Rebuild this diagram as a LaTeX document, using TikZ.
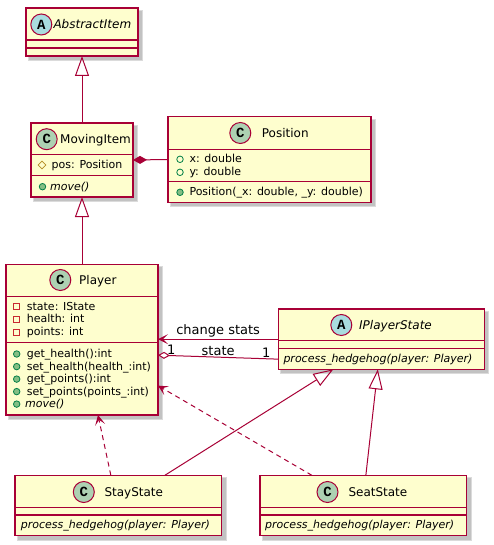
\documentclass[tikz,border=0pt]{standalone}
\usepackage{fontspec}
\setmainfont{DejaVu Sans}
\newfontfamily\spotfont{Liberation Mono}
\usetikzlibrary{arrows.meta,fit,shapes.geometric}
\definecolor{umlred}{HTML}{A80036}
\definecolor{classfill}{HTML}{FEFECE}
\definecolor{spotc}{HTML}{ADD1B2}
\definecolor{spota}{HTML}{A9DCDF}
\definecolor{pubfill}{HTML}{84BE84}
\definecolor{pubdraw}{HTML}{038048}
\definecolor{privdraw}{HTML}{C82930}
\definecolor{protdraw}{HTML}{B38D22}

\begin{document}
\begin{tikzpicture}[x=1pt,y=-1pt,
  classbox/.style={draw=umlred, fill=classfill, line width=1.2pt, inner sep=0pt, outer sep=0pt},
  sepline/.style={draw=umlred, line width=1.2pt},
  softshadow/.style={fill=black!14},
  hardshadow/.style={fill=black!24},
  spot/.style={circle, draw=umlred, line width=1pt, minimum size=21pt, inner sep=0pt, font=\spotfont\bfseries\fontsize{14}{14}\selectfont},
  cname/.style={anchor=base west, inner sep=0pt, font=\fontsize{12}{14}\selectfont},
  member/.style={anchor=base west, inner sep=0pt, font=\fontsize{11}{13}\selectfont},
  pubop/.style={circle, fill=pubfill, draw=pubdraw, line width=0.8pt, minimum size=6.5pt, inner sep=0pt},
  pubfield/.style={circle, draw=pubdraw, line width=0.8pt, minimum size=6.5pt, inner sep=0pt},
  privfield/.style={rectangle, draw=privdraw, line width=0.8pt, minimum size=6pt, inner sep=0pt},
  protfield/.style={diamond, draw=protdraw, line width=0.8pt, minimum size=8pt, inner sep=0pt},
  link/.style={draw=umlred, line width=1pt},
  extends/.style={link, -{Triangle[open, length=20pt, width=14pt]}},
  uses/.style={link, dash pattern=on 5pt off 4pt, -{Stealth[length=10pt, width=10pt, inset=5pt]}},
  linklabel/.style={font=\fontsize{13}{15}\selectfont, inner sep=1pt}
]
\fill[white] (0,0) rectangle (494,545);
\useasboundingbox (0,0) rectangle (494,545);

\fill[softshadow] (28,10) rectangle (143,61);
\fill[hardshadow] (29,11) rectangle (142,60);
\node[classbox, fit={(26,8) (138,56)}] (abstractitem) {};
\draw[sepline] (26,40) -- (138,40) (26,48) -- (138,48);
\node[spot, fill=spota] (abstractitemspot) at (41.3,24.5) {A};
\node[cname] (abstractitemname) at (53.3,29) {\textit{AbstractItem}};

\fill[softshadow] (33,125) rectangle (138,202);
\fill[hardshadow] (34,126) rectangle (137,201);
\node[classbox, fit={(31,123) (133,197)}] (movingitem) {};
\draw[sepline] (31,154.3) -- (133,154.3) (31,175.7) -- (133,175.7);
\node[spot, fill=spotc] (movingitemspot) at (46.7,139.2) {C};
\node[cname] (movingitemname) at (60,143.7) {MovingItem};
\node[protfield] (posicon) at (42,165) {};
\node[member] (postext) at (51.5,168.5) {pos: Position};
\node[pubop] (moveicon) at (42.5,186.7) {};
\node[member] (movetext) at (50,190.2) {\textit{move()}};

\fill[softshadow] (170,119) rectangle (376,207);
\fill[hardshadow] (171,120) rectangle (375,206);
\node[classbox, fit={(168,116.7) (371,202.3)}] (position) {};
\draw[sepline] (168,149.3) -- (371,149.3) (168,181.7) -- (371,181.7);
\node[spot, fill=spotc] (positionspot) at (240.3,133) {C};
\node[cname] (positionname) at (261.7,137.5) {Position};
\node[pubfield] (xicon) at (180,159.3) {};
\node[member] (xtext) at (189.3,162.8) {x: double};
\node[pubfield] (yicon) at (180,172.3) {};
\node[member] (ytext) at (189.3,175.8) {y: double};
\node[pubop] (ctoricon) at (180,192.3) {};
\node[member] (ctortext) at (189.3,195.8) {Position(\_x: double, \_y: double)};

\fill[softshadow] (8,266) rectangle (163,420);
\fill[hardshadow] (9,267) rectangle (162,419);
\node[classbox, fit={(6,264.3) (158,415)}] (player) {};
\draw[sepline] (6,296.7) -- (158,296.7) (6,342.3) -- (158,342.3);
\node[spot, fill=spotc] (playerspot) at (60.3,280) {C};
\node[cname] (playername) at (79,284.3) {Player};
\node[privfield] (stateicon) at (16.7,306.7) {};
\node[member] (statetext) at (26.7,310.2) {state: IState};
\node[privfield] (healthicon) at (16.7,319.3) {};
\node[member] (healthtext) at (26.7,322.8) {health: int};
\node[privfield] (pointsicon) at (16.7,332.1) {};
\node[member] (pointstext) at (26.7,335.6) {points: int};
\node[pubop] (gethealthicon) at (16.7,354) {};
\node[member] (gethealthtext) at (26.7,357.5) {get\_health():int};
\node[pubop] (sethealthicon) at (16.7,366.6) {};
\node[member] (sethealthtext) at (26.7,370.1) {set\_health(health\_:int)};
\node[pubop] (getpointsicon) at (16.7,379.1) {};
\node[member] (getpointstext) at (26.7,382.6) {get\_points():int};
\node[pubop] (setpointsicon) at (16.7,391.6) {};
\node[member] (setpointstext) at (26.7,395.1) {set\_points(points\_:int)};
\node[pubop] (playermoveicon) at (16.7,404.1) {};
\node[member] (playermovetext) at (25,407.6) {\textit{move()}};

\fill[softshadow] (280,311) rectangle (489,374);
\fill[hardshadow] (281,312) rectangle (488,373);
\node[classbox, fit={(278.3,309) (484.3,369.3)}] (iplayerstate) {};
\draw[sepline] (278.3,340.7) -- (484.3,340.7) (278.3,348.3) -- (484.3,348.3);
\node[spot, fill=spota] (iplayerstatespot) at (341.3,325) {A};
\node[cname] (iplayerstatename) at (359,329.5) {\textit{IPlayerState}};
\node[member] (iplayerstatetext) at (283.3,362.5) {\textit{process\_hedgehog(player: Player)}};

\fill[softshadow] (17,477) rectangle (227,541);
\fill[hardshadow] (18,478) rectangle (226,540);
\node[classbox, fit={(15,475.3) (221.7,535.7)}] (staystate) {};
\draw[sepline] (15,507.3) -- (221.7,507.3) (15,515) -- (221.7,515);
\node[spot, fill=spotc] (staystatespot) at (83.8,492) {C};
\node[cname] (staystatename) at (104.3,496.5) {StayState};
\node[member] (staystatetext) at (20.7,528.5) {\textit{process\_hedgehog(player: Player)}};

\fill[softshadow] (262,477) rectangle (472,541);
\fill[hardshadow] (263,478) rectangle (471,540);
\node[classbox, fit={(260,475.3) (466.7,535.7)}] (seatstate) {};
\draw[sepline] (260,507.3) -- (466.7,507.3) (260,515) -- (466.7,515);
\node[spot, fill=spotc] (seatstatespot) at (327.5,492) {C};
\node[cname] (seatstatename) at (348.3,496.5) {SeatState};
\node[member] (seatstatetext) at (265,528.5) {\textit{process\_hedgehog(player: Player)}};

\draw[extends] (movingitem.north) -- (abstractitem.south);
\draw[extends] (player.north) -- (movingitem.south);
\draw[link, {Diamond[length=14pt, width=8pt, fill=umlred]}-] (movingitem.east) -- (position.west);
\draw[link, -{Stealth[length=10pt, width=10pt, inset=5pt]}] (iplayerstate.west) -- (player.east |- iplayerstate.west)
  node[midway, above, linklabel] (changelabel) {change stats};
\draw[link, {Diamond[length=12pt, width=7pt, fill=white]}-] ([yshift=-15.5pt]player.east) -- ([yshift=-20pt]iplayerstate.west)
  node[pos=0.11, above, linklabel] (playerone) {1}
  node[midway, above, linklabel] (statelabel) {state}
  node[pos=0.9, above, linklabel] (stateone) {1};
\draw[extends] ([xshift=46.5pt]staystate.north) -- ([xshift=-48pt]iplayerstate.south);
\draw[extends] ([xshift=2.5pt]seatstate.north) -- ([xshift=-3.5pt]iplayerstate.south);
\draw[uses] ([xshift=-7.5pt]staystate.north) -- ([xshift=16pt]player.south);
\draw[uses] ([xshift=-51.5pt]seatstate.north) -- ([yshift=-46pt]player.east);
\end{tikzpicture}
\end{document}
